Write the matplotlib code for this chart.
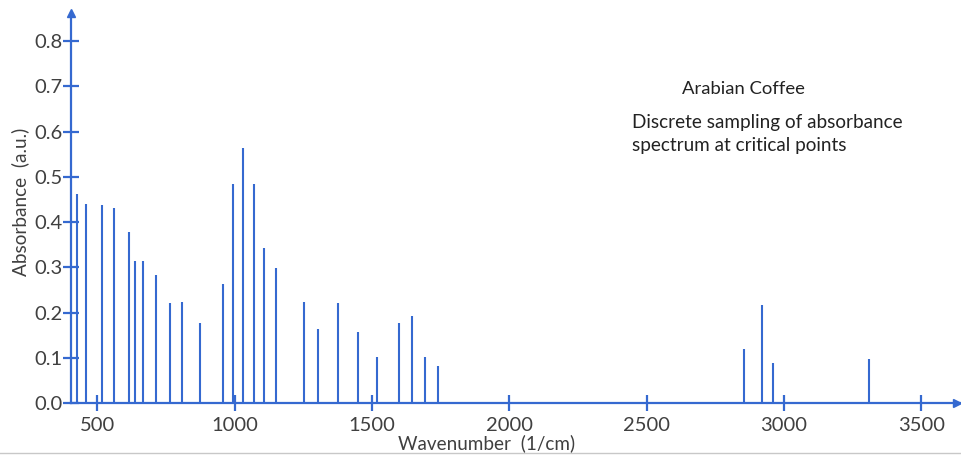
import matplotlib
matplotlib.use("Agg")
import matplotlib.pyplot as plt
from matplotlib.lines import Line2D

wavenumbers = [427, 458, 518, 560, 614, 637, 665, 713, 763, 809, 874,
               958, 995, 1029, 1069, 1107, 1151, 1252, 1302, 1375, 1450,
               1519, 1599, 1647, 1693, 1739, 2855, 2920, 2961, 3310]
absorbance = [0.463, 0.440, 0.438, 0.432, 0.379, 0.313, 0.313, 0.282, 0.222,
              0.224, 0.177, 0.263, 0.485, 0.563, 0.485, 0.342, 0.298, 0.224,
              0.163, 0.222, 0.158, 0.102, 0.177, 0.192, 0.102, 0.082, 0.119,
              0.217, 0.088, 0.097]
x_ticks = [500, 1000, 1500, 2000, 2500, 3000, 3500]
y_ticks = [0.0, 0.1, 0.2, 0.3, 0.4, 0.5, 0.6, 0.7, 0.8]

blue = "#3569d0"
grey = "#404040"
plt.rcParams["font.family"] = ["Lato", "DejaVu Sans"]

W, H = 961, 458
fig = plt.figure(figsize=(W / 100, H / 100), dpi=100)
ax = fig.add_axes([71 / W, 55 / H, 890 / W, 390 / H])

ax.vlines(wavenumbers, 0, absorbance, color=blue, linewidth=1.5)

ax.set_xlim(404, 3645)
ax.set_ylim(0, 0.862)
ax.set_xticks(x_ticks)
ax.set_yticks(y_ticks)
ax.set_yticklabels([f"{v:.1f}" for v in y_ticks])

for side in ["top", "right"]:
    ax.spines[side].set_visible(False)
for side in ["left", "bottom"]:
    ax.spines[side].set_color(blue)
    ax.spines[side].set_linewidth(1.6)

ax.tick_params(direction="inout", length=11.5, width=1.6, color=blue,
               labelcolor=grey, labelsize=14.5)
ax.tick_params(axis="y", pad=0.5)
ax.tick_params(axis="x", pad=4)

# arrow heads at the axis ends
ax.plot([0], [1], marker="^", markersize=6, color=blue,
        transform=ax.transAxes, clip_on=False)
ax.plot([0.995], [0], marker=">", markersize=6, color=blue,
        transform=ax.transAxes, clip_on=False)

fig.text(487 / W, 1 - 443 / H, "Wavenumber  (1/cm)", ha="center", va="center",
         fontsize=13.6, color=grey)
fig.text(20 / W, 1 - 202 / H, "Absorbance  (a.u.)", ha="center", va="center",
         rotation=90, fontsize=13.7, color=grey)

fig.text(743 / W, 1 - 89 / H, "Arabian Coffee", ha="center", va="center",
         fontsize=13.3, color="#222222")
fig.text(632 / W, 1 - 122 / H, "Discrete sampling of absorbance", ha="left",
         va="center", fontsize=13.6, color="#222222")
fig.text(632 / W, 1 - 145 / H, "spectrum at critical points", ha="left",
         va="center", fontsize=13.6, color="#222222")

# thin grey border line along the bottom of the picture
fig.add_artist(Line2D([0, 1], [1 - 453 / H, 1 - 453 / H], color="#c8c8c8",
                      linewidth=1, transform=fig.transFigure))

fig.savefig("out.png", dpi=100)
